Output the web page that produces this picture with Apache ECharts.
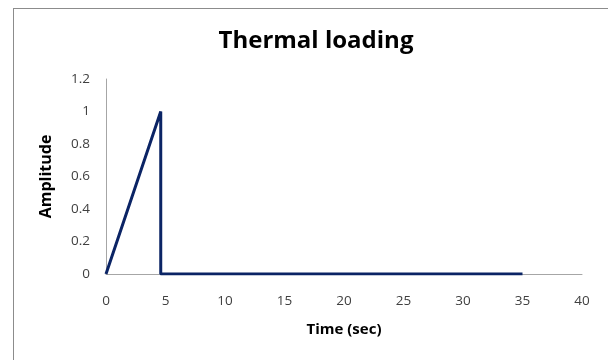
<!DOCTYPE html>
<html>
<head>
<meta charset="utf-8">
<script src="https://cdn.jsdelivr.net/npm/echarts@6/dist/echarts.min.js"></script>
<style>
  html, body { margin: 0; padding: 0; background: #fff; }
  #frame { position: absolute; left: 13px; top: 8px; width: 600px; height: 360px; border: 1px solid #8c8c8c; box-sizing: border-box; }
  #chart { position: absolute; left: 0; top: 0; width: 608px; height: 360px; }
</style>
</head>
<body>
<div id="frame"></div>
<div id="chart"></div>
<script>
// Thermal load pulse: ramp to peak, sudden drop, then zero until the end
const timeSec = [0, 4.6, 4.6, 35];
const amplitude = [0, 1, 0, 0];
const xTicks = [0, 5, 10, 15, 20, 25, 30, 35, 40];
const yTicks = [0, 0.2, 0.4, 0.6, 0.8, 1, 1.2];

const font = '"Open Sans", "Liberation Sans", sans-serif';
const chart = echarts.init(document.getElementById('chart'));
chart.setOption({
  animation: false,
  title: {
    text: 'Thermal loading',
    left: 311, top: 24, textAlign: 'center',
    textStyle: { fontFamily: font, fontSize: 24, fontWeight: 'bold', color: '#000' }
  },
  grid: { left: 106, right: 26, top: 79, bottom: 86 },
  xAxis: {
    type: 'value', min: xTicks[0], max: xTicks[xTicks.length - 1], interval: 5,
    name: 'Time (sec)', nameLocation: 'middle', nameGap: 48,
    nameTextStyle: { fontFamily: font, fontSize: 15, fontWeight: 'bold', color: '#000' },
    axisLine: { lineStyle: { color: '#a6a6a6', width: 1 } },
    axisTick: { show: false },
    splitLine: { show: false },
    axisLabel: { fontFamily: font, fontSize: 13.5, color: '#404040', margin: 20 }
  },
  yAxis: {
    type: 'value', min: yTicks[0], max: yTicks[yTicks.length - 1], interval: 0.2,
    name: 'Amplitude', nameLocation: 'middle', nameGap: 52, nameRotate: 90,
    nameTextStyle: { fontFamily: font, fontSize: 16, fontWeight: 'bold', color: '#000' },
    axisLine: { show: true, lineStyle: { color: '#a6a6a6', width: 1 } },
    axisTick: { show: false },
    splitLine: { show: false },
    axisLabel: { fontFamily: font, fontSize: 13.5, color: '#404040', margin: 16 }
  },
  series: [{
    type: 'line',
    data: timeSec.map((t, i) => [t, amplitude[i]]),
    showSymbol: false,
    lineStyle: { color: '#0b2465', width: 3 }
  }]
});
</script>
</body>
</html>
